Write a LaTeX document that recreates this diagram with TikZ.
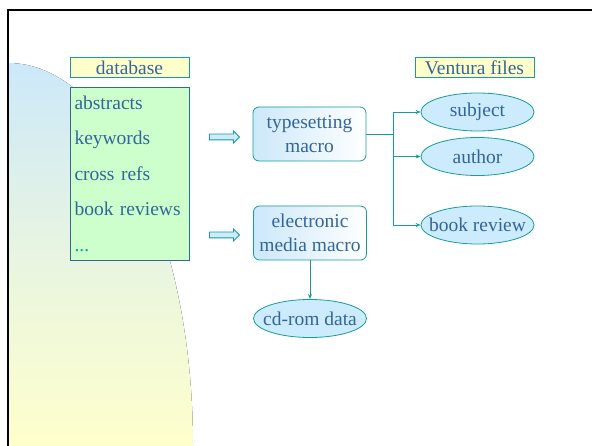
\documentclass[tikz,border=0pt]{standalone}
\usepackage{fontspec}
\setmainfont{Liberation Serif}
\usetikzlibrary{arrows.meta,positioning,shapes.geometric,shapes.arrows}

\definecolor{ink}{HTML}{336699}
\definecolor{tealline}{HTML}{169C9C}
\definecolor{paleblue}{HTML}{CCEBFC}
\definecolor{paleyellow}{HTML}{FFFFCC}
\definecolor{palegreen}{HTML}{CCFFCC}
\definecolor{skyblue}{HTML}{CCE8FA}

\begin{document}
\begin{tikzpicture}[
    x=1pt, y=-1pt,
    every node/.style={font=\fontsize{19.5}{23.5}\selectfont, text=ink},
    heading/.style={rectangle, draw=tealline, fill=paleyellow, line width=1pt,
        minimum width=119pt, minimum height=20pt, inner sep=0pt},
    dbbox/.style={rectangle, draw=ink, fill=palegreen, line width=0.8pt,
        text width=110pt, inner xsep=4.5pt, inner ysep=0pt, minimum height=173pt,
        align=left, font=\fontsize{19.5}{35.5}\selectfont},
    macro/.style={rectangle, rounded corners=6pt, draw=tealline, line width=0.8pt,
        left color=skyblue, right color=white, minimum width=113pt,
        minimum height=54pt, inner sep=0pt, align=center},
    outfile/.style={ellipse, draw=tealline, fill=paleblue, line width=0.8pt,
        minimum width=113pt, minimum height=38pt, inner xsep=-9pt, inner ysep=-5pt},
    blockarrow/.style={single arrow, draw=tealline, fill=paleblue, line width=0.8pt,
        minimum height=30pt, inner sep=2.5pt, single arrow head extend=3pt},
    link/.style={draw=tealline, line width=0.8pt, -{Stealth[length=5pt,width=4pt]}}
]
    \useasboundingbox (0,0) rectangle (592,446);
    \fill[white] (0,0) rectangle (592,446);

    % slide backdrop
    \fill[top color=skyblue, bottom color=paleyellow, middle color=paleyellow!55!skyblue]
        (8,446) -- (8,63) arc[start angle=-90, end angle=0, x radius=185, y radius=383] -- cycle;
    \draw[line width=2pt] (8,446) -- (8,10) -- (592,10);

    % database side
    \node[heading] (dbhead) at (129.5,67.5) {database};
    \node[dbbox] (db) at (129.5,173.5)
        {abstracts\\keywords\\cross refs\\book reviews\\\textcolor{tealline}{...}};

    \node[blockarrow] (toset) at (223,137) {};
    \node[blockarrow] (toelec) at (223,235) {};

    % macros
    \node[macro] (typeset) at (309.5,134) {typesetting\\macro};
    \node[macro] (electronic) at (310,233) {electronic\\media macro};
    \node[outfile] (cdrom) at (310,318.5) {cd-rom data};

    % ventura side
    \node[heading] (venhead) at (474.5,67.5) {Ventura files};
    \node[outfile] (subject) at (477.5,112) {subject};
    \node[outfile] (author) at (477.5,156.5) {author};
    \node[outfile] (bookrev) at (477.5,225) {book review};

    \coordinate (fork) at (393,134);
    \draw[draw=tealline, line width=0.8pt] (typeset) -- (fork);
    \draw[link] (fork) |- (subject);
    \draw[link] (fork) |- (author);
    \draw[link] (fork) |- (bookrev);
    \draw[link] (electronic) -- (cdrom);
\end{tikzpicture}
\end{document}
